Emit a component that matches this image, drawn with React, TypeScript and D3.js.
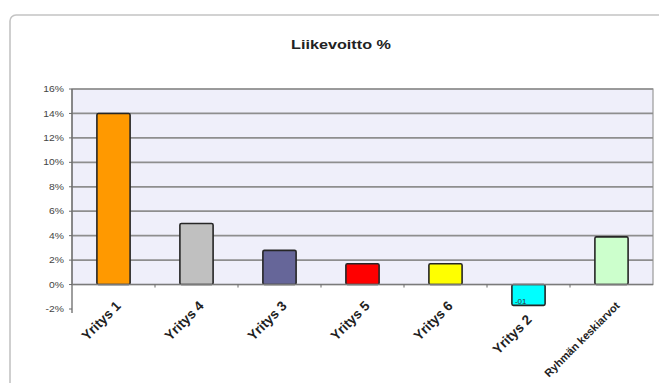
import React from 'react';
import * as d3 from 'd3';

// Liikevoitto-% per yritys
const categories = ['Yritys 1', 'Yritys 4', 'Yritys 3', 'Yritys 5', 'Yritys 6', 'Yritys 2', 'Ryhmän keskiarvot'];
const values = [14, 5, 2.8, 1.7, 1.7, -1.7, 3.9];
const barColors = ['#FF9900', '#C0C0C0', '#666699', '#FF0000', '#FFFF00', '#00FFFF', '#CCFFCC'];
const yTicks = [-2, 0, 2, 4, 6, 8, 10, 12, 14, 16];

export default function App() {
  const width = 659;
  const height = 383;
  const plot = { left: 72, right: 653, top: 89, bottom: 309 };
  const font = 'Liberation Sans, Arial, sans-serif';

  const x = d3.scaleBand<string>()
    .domain(categories)
    .range([plot.left, plot.right])
    .paddingInner(0.6)
    .paddingOuter(0.3);

  const band = d3.scaleBand<string>().domain(categories).range([plot.left, plot.right]);

  const y = d3.scaleLinear().domain([-2, 16]).range([plot.bottom, plot.top]);

  return (
    <div style={{ position: 'fixed', left: 0, top: 0 }}>
      <svg width={width} height={height} style={{ display: 'block', background: '#fff' }}>
        {/* chart frame */}
        <rect x={10} y={15} width={700} height={420} rx={6} fill="#fff" stroke="#c4c4c4" strokeWidth={1.6} />

        <text transform="translate(341,49) scale(1.2,1)" textAnchor="middle" fontFamily={font}
          fontWeight="bold" fontSize={13.5} fill="#222">Liikevoitto %</text>

        {/* plot area (shaded down to the zero line) */}
        <rect x={plot.left} y={plot.top} width={plot.right - plot.left} height={y(0) - plot.top}
          fill="#EFEFFA" stroke="#9a9a9a" strokeWidth={1.2} />

        {yTicks.filter(t => t > 0).map(t => (
          <line key={t} x1={plot.left} x2={plot.right} y1={y(t)} y2={y(t)}
            stroke="#8e8e8e" strokeWidth={1.7} />
        ))}

        {/* y axis */}
        <line x1={plot.left} x2={plot.left} y1={plot.top} y2={y(-2) + 4} stroke="#6a6a6a" strokeWidth={1.3} />
        {yTicks.map(t => (
          <g key={t}>
            <line x1={plot.left - 3} x2={plot.left} y1={y(t)} y2={y(t)} stroke="#6a6a6a" strokeWidth={1} />
            <text transform={`translate(${plot.left - 8},${y(t)}) scale(1.15,1)`} dy="0.35em" textAnchor="end"
              fontFamily={font} fontSize={9} fill="#444">{t}%</text>
          </g>
        ))}

        {/* bars */}
        {categories.map((c, i) => {
          const v = values[i];
          const y0 = y(Math.max(0, v));
          const h = Math.abs(y(v) - y(0));
          return (
            <rect key={c} x={x(c)} y={y0} width={x.bandwidth()} height={h} rx={1.5}
              fill={barColors[i]} stroke="#262626" strokeWidth={1.6} />
          );
        })}

        {/* x axis on the zero line */}
        <line x1={plot.left} x2={plot.right} y1={y(0)} y2={y(0)} stroke="#7a7a7a" strokeWidth={1.6} />
        {categories.slice(1).map(c => (
          <line key={c} x1={band(c)} x2={band(c)} y1={y(0)} y2={y(0) + 3} stroke="#6a6a6a" strokeWidth={1} />
        ))}

        {/* partly hidden data label */}
        <text x={(x('Yritys 2') ?? 0) + 3} y={y(values[5]) - 1} fontFamily={font}
          fontSize={8} fill="#333">-01</text>

        {/* category labels */}
        {categories.map((c, i) => {
          const long = c.length > 10;
          const neg = values[i] < 0;
          const cx = (band(c) ?? 0) + band.bandwidth() / 2 + (neg ? -3 : long ? 3 : 1);
          const cy = Math.max(y(0), y(values[i])) + (neg ? 8 : long ? 16 : 15);
          return (
            <text key={c} transform={`translate(${cx},${cy}) rotate(-45)`} textAnchor="end"
              dy="0.75em" fontFamily={font} fontWeight="bold" fontSize={long ? 11 : 13.5}
              fill="#222">{c}</text>
          );
        })}
      </svg>
    </div>
  );
}
